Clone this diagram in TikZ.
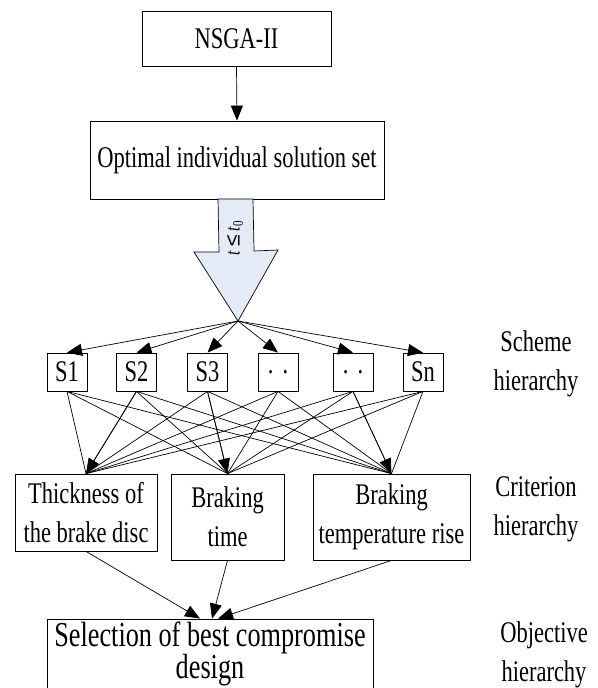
\documentclass[tikz,border=0pt]{standalone}
\usepackage{fontspec}
\setmainfont{Liberation Serif}[FakeStretch=0.75]
\newfontfamily\symfont{Liberation Sans}
\usetikzlibrary{arrows.meta}
\definecolor{arrowfill}{RGB}{228,235,247}
\begin{document}
\begin{tikzpicture}[x=1pt,y=-1pt,
  box/.style={draw, line width=0.8pt, inner sep=0pt, align=center},
  txt/.style={font=\fontsize{30}{39}\selectfont},
  lab/.style={align=center, inner sep=0pt, font=\fontsize{30}{39}\selectfont},
  arr/.style={line width=0.7pt, -{Triangle[length=15pt,width=12pt]}},
  ln/.style={line width=0.7pt}]
\useasboundingbox (0,0) rectangle (597,688);

% top boxes
\node[box, txt, minimum width=189pt, minimum height=55pt] (nsga) at (236.5,38.5) {NSGA-II};
\node[box, txt, minimum width=294pt, minimum height=78pt] (opt) at (237,160) {Optimal individual solution set};
\draw[arr] (nsga.south) -- (opt.north);

% big block arrow
\coordinate (tip) at (238,321);
\draw[line width=0.7pt, fill=arrowfill] (218,199) -- (253,199) -- (254,251) -- (278,250) -- (tip) -- (194,252) -- (219,252) -- cycle;
\node[rotate=90, inner sep=0pt, font=\fontsize{21}{22}\selectfont] (cond) at (235,238) {\textit{t} {\symfont ≤} \textit{t}\textsubscript{0}};

% scheme boxes
\foreach \n/\x/\t in {1/67/S1, 2/136.5/S2, 3/207.5/S3, 4/278/{.\hspace{0.3em}.}, 5/353/{.\hspace{0.3em}.}, 6/423/Sn}
  \node[box, txt, minimum width=40pt, minimum height=38pt] (s\n) at (\x,372) {\t};
\foreach \n in {1,...,6}
  \draw[arr] (tip) -- (s\n.north);

% criterion boxes
\node[box, txt, minimum width=142pt, minimum height=77pt] (c1) at (86,512.5) {Thickness of\\the brake disc};
\node[box, txt, minimum width=113pt, minimum height=86pt] (c2) at (227.5,517) {Braking\\time};
\node[box, txt, minimum width=157pt, minimum height=86pt] (c3) at (391.5,517) {Braking\\temperature rise};

\foreach \n in {1,...,6}
  \foreach \c in {c1,c2,c3}
    \draw[ln] (s\n.south) -- (\c.north);
\draw[arr] (s2.south) -- (c1.north);
\draw[arr] (s3.south) -- (c2.north);
\draw[arr] (s5.south) -- (c3.north);

% objective box (its bottom edge lies below the picture, as in the reference)
\node[box, font=\fontsize{35}{33}\selectfont, minimum width=326pt, minimum height=74pt] (obj) at (210,656) {};
\node[align=center, inner sep=0pt, font=\fontsize{35}{32}\selectfont, anchor=north] (objtxt) at ([yshift=-3pt]obj.north) {Selection of best compromise\\design};
\draw[arr] (c1.south) -- ([xshift=-10pt]obj.north);
\draw[arr] (c2.south) -- ([xshift=2pt]obj.north);
\draw[arr] (c3.south) -- ([xshift=8pt]obj.north);

% side labels
\node[lab] (lsch) at (536,364) {Scheme\\hierarchy};
\node[lab] (lcri) at (536,509) {Criterion\\hierarchy};
\node[lab] (lobj) at (544,655) {Objective\\hierarchy};
\end{tikzpicture}
\end{document}
